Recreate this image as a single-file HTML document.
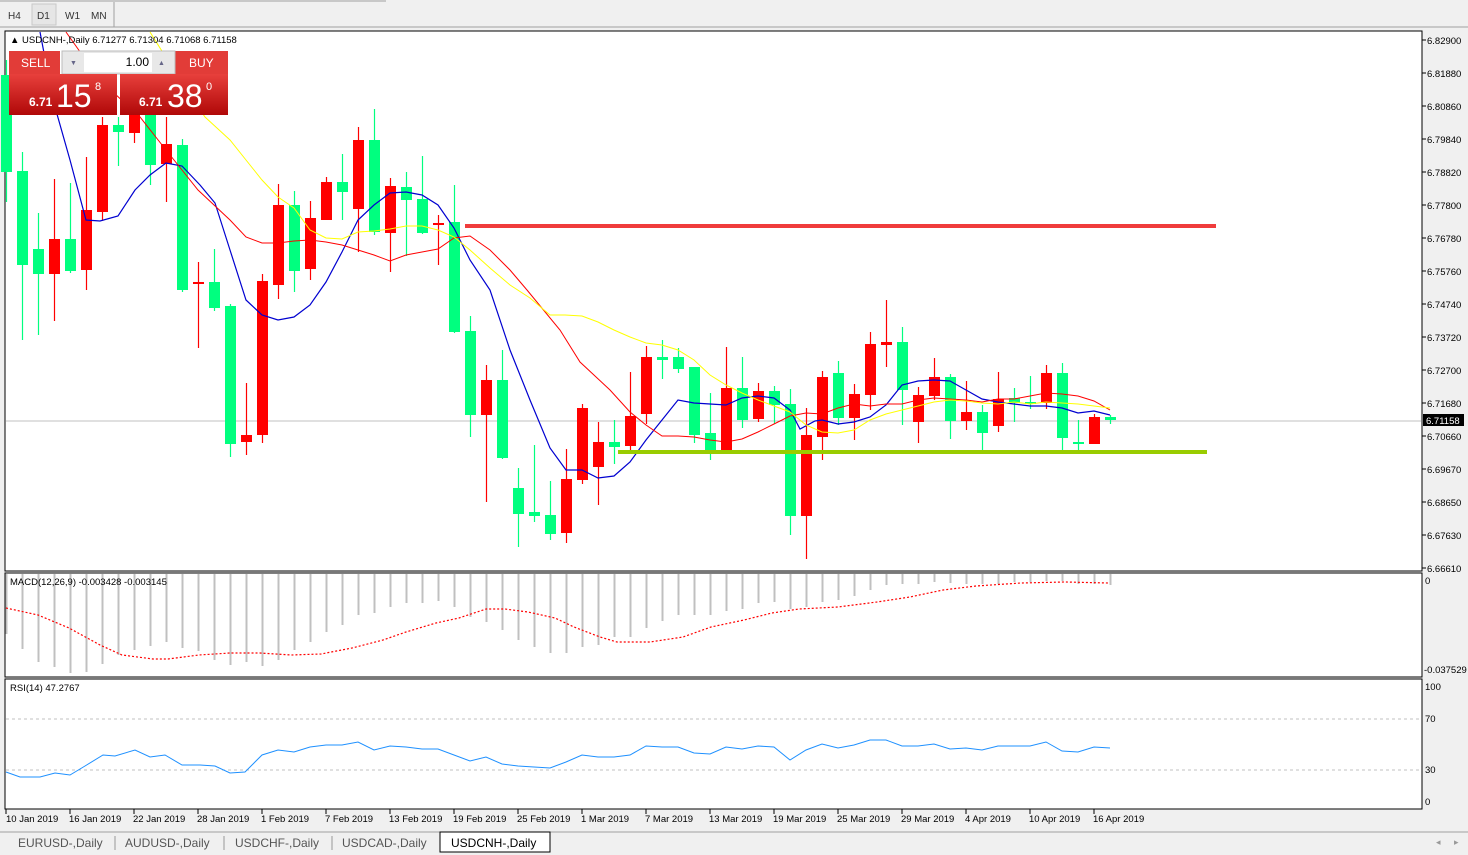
<!DOCTYPE html>
<html><head><meta charset="utf-8"><style>
html,body{margin:0;padding:0;width:1468px;height:855px;overflow:hidden;background:#f0f0f0;font-family:"Liberation Sans",sans-serif;}
svg{position:absolute;left:0;top:0}
.t{font-family:"Liberation Sans",sans-serif;font-size:9.5px;fill:#000}
</style></head><body>
<svg id="s" width="1468" height="855" xmlns="http://www.w3.org/2000/svg">
<rect x="0" y="0" width="1468" height="855" fill="#f0f0f0"/>
<line x1="0" y1="1" x2="386" y2="1" stroke="#a0a0a0"/>
<line x1="114" y1="2" x2="114" y2="27" stroke="#a0a0a0"/>
<rect x="32" y="4" width="24" height="21" fill="#e6e6e6" stroke="#c8c8c8"/>
<text x="8" y="19" font-size="10" fill="#333" font-family="Liberation Sans">H4</text>
<text x="37" y="19" font-size="10" fill="#333" font-family="Liberation Sans">D1</text>
<text x="65" y="19" font-size="10" fill="#333" font-family="Liberation Sans">W1</text>
<text x="91" y="19" font-size="10" fill="#333" font-family="Liberation Sans">MN</text>
<line x1="0" y1="27" x2="1468" y2="27" stroke="#a0a0a0"/>
<rect x="5" y="31" width="1417" height="540" fill="#fff" stroke="#000"/>
<rect x="5" y="573" width="1417" height="104" fill="#fff" stroke="#000"/>
<rect x="5" y="679" width="1417" height="130" fill="#fff" stroke="#000"/>
<rect x="0" y="829" width="1468" height="26" fill="#f0f0f0"/>
<g id="g"></g>
<g class="t">
<text x="1427" y="44">6.82900</text><text x="1427" y="77">6.81880</text><text x="1427" y="110">6.80860</text><text x="1427" y="143">6.79840</text><text x="1427" y="176">6.78820</text><text x="1427" y="209">6.77800</text><text x="1427" y="242">6.76780</text><text x="1427" y="275">6.75760</text><text x="1427" y="308">6.74740</text><text x="1427" y="341">6.73720</text><text x="1427" y="374">6.72700</text><text x="1427" y="407">6.71680</text><text x="1427" y="440">6.70660</text><text x="1427" y="473">6.69670</text><text x="1427" y="506">6.68650</text><text x="1427" y="539">6.67630</text><text x="1427" y="572">6.66610</text>
<text x="1425" y="584">0</text><text x="1424" y="673">-0.037529</text>
<text x="1425" y="690">100</text><text x="1425" y="722">70</text><text x="1425" y="773">30</text><text x="1425" y="805">0</text>
</g>
<rect x="1423" y="414" width="41" height="12" fill="#000"/>
<text x="1426" y="424" font-family="Liberation Sans" font-size="9.5" fill="#fff">6.71158</text>
<g class="t">
<text x="6" y="822">10 Jan 2019</text><text x="69" y="822">16 Jan 2019</text><text x="133" y="822">22 Jan 2019</text><text x="197" y="822">28 Jan 2019</text><text x="261" y="822">1 Feb 2019</text><text x="325" y="822">7 Feb 2019</text><text x="389" y="822">13 Feb 2019</text><text x="453" y="822">19 Feb 2019</text><text x="517" y="822">25 Feb 2019</text><text x="581" y="822">1 Mar 2019</text><text x="645" y="822">7 Mar 2019</text><text x="709" y="822">13 Mar 2019</text><text x="773" y="822">19 Mar 2019</text><text x="837" y="822">25 Mar 2019</text><text x="901" y="822">29 Mar 2019</text><text x="965" y="822">4 Apr 2019</text><text x="1029" y="822">10 Apr 2019</text><text x="1093" y="822">16 Apr 2019</text>
</g>
<line x1="0" y1="832" x2="1468" y2="832" stroke="#a0a0a0"/>
<rect x="440" y="832" width="110" height="20" fill="#fff" stroke="#000"/>
<g font-family="Liberation Sans" font-size="12" fill="#555">
<text x="18" y="847">EURUSD-,Daily</text><text x="125" y="847">AUDUSD-,Daily</text><text x="235" y="847">USDCHF-,Daily</text><text x="342" y="847">USDCAD-,Daily</text><text x="451" y="847" fill="#000">USDCNH-,Daily</text>
</g>
<line x1="115" y1="836" x2="115" y2="850" stroke="#999"/><line x1="224" y1="836" x2="224" y2="850" stroke="#999"/><line x1="332" y1="836" x2="332" y2="850" stroke="#999"/>
<text x="1436" y="845" font-size="9" fill="#999">◂</text><text x="1454" y="845" font-size="9" fill="#999">▸</text>
<text x="10" y="43" font-size="9.5" font-family="Liberation Sans" fill="#000">▲ USDCNH-,Daily  6.71277 6.71304 6.71068 6.71158</text>
<text x="10" y="585" class="t">MACD(12,26,9) -0.003428 -0.003145</text>
<text x="10" y="691" class="t">RSI(14) 47.2767</text>
<defs><linearGradient id="rg" x1="0" y1="0" x2="0" y2="1"><stop offset="0" stop-color="#e8403c"/><stop offset="1" stop-color="#b00808"/></linearGradient></defs>
<rect x="9" y="51" width="51" height="23" fill="#e23c38"/>
<rect x="175" y="51" width="53" height="23" fill="#e23c38"/>
<rect x="62" y="51" width="113" height="23" fill="#e8e8e8" stroke="#bbb"/>
<rect x="84" y="53" width="68" height="19" fill="#fff"/>
<text x="21" y="67" font-family="Liberation Sans" font-size="12" fill="#fff">SELL</text>
<text x="189" y="67" font-family="Liberation Sans" font-size="12" fill="#fff">BUY</text>
<text x="149" y="66" text-anchor="end" font-family="Liberation Sans" font-size="12" fill="#000">1.00</text>
<text x="70" y="65" font-size="7" fill="#668">▼</text><text x="158" y="65" font-size="7" fill="#668">▲</text>
<rect x="9" y="74" width="108" height="41" fill="url(#rg)"/>
<rect x="120" y="74" width="108" height="41" fill="url(#rg)"/>
<text x="29" y="106" font-family="Liberation Sans" font-size="12" font-weight="bold" fill="#fff">6.71</text>
<text x="56" y="107" font-family="Liberation Sans" font-size="32" fill="#fff">15</text>
<text x="95" y="90" font-family="Liberation Sans" font-size="11" fill="#fff">8</text>
<text x="139" y="106" font-family="Liberation Sans" font-size="12" font-weight="bold" fill="#fff">6.71</text>
<text x="167" y="107" font-family="Liberation Sans" font-size="32" fill="#fff">38</text>
<text x="206" y="90" font-family="Liberation Sans" font-size="11" fill="#fff">0</text>
</svg>
<script>
var NS="http://www.w3.org/2000/svg",g=document.getElementById('g');
function el(t,a){var e=document.createElementNS(NS,t);for(var k in a)e.setAttribute(k,a[k]);g.appendChild(e);return e;}
for(var i=0;i<17;i++)el('line',{x1:1422,y1:40+i*33,x2:1426,y2:40+i*33,stroke:'#000'});
for(var i=0;i<18;i++)el('line',{x1:6+i*64,y1:809,x2:6+i*64,y2:814,stroke:'#000'});
el('line',{x1:6,y1:421,x2:1421,y2:421,stroke:'#c0c0c0'});
var C=[['g',75,172,60,202],['g',171,265,152,340],['g',249,274,213,335],['r',239,274,179,321],['g',239,271,183,273],['r',210,270,157,290],['r',125,212,117,221],['g',125,132,117,166],['r',112,133,105,143],['g',112,165,105,185],['r',144,164,117,202],['g',145,290,139,292],['r',282,284,262,348],['g',282,308,249,311],['g',306,444,304,457],['r',435,442,383,455],['r',281,435,274,443],['r',205,285,184,299],['g',205,271,191,292],['r',218,269,201,280],['r',182,220,177,220],['g',182,192,154,220],['r',140,209,127,252],['g',140,232,109,235],['r',186,233,178,272],['g',187,200,172,256],['g',199,233,156,234],['r',223,225,215,265],['g',222,332,185,333],['g',331,415,316,437],['r',380,415,365,502],['g',380,458,350,459],['g',488,514,468,547],['g',512,516,445,522],['g',515,534,481,540],['r',479,533,449,543],['r',408,480,404,484],['r',442,467,422,505],['g',442,447,420,464],['r',416,446,372,454],['r',357,414,346,424],['g',357,360,340,379],['g',357,369,348,373],['g',367,435,367,443],['g',433,450,393,460],['r',388,450,347,450],['g',388,420,357,428],['r',391,419,383,422],['g',391,405,386,424],['g',404,516,389,535],['r',435,516,408,559],['r',377,437,371,460],['g',373,418,361,425],['r',394,418,384,440],['r',344,395,332,410],['r',342,345,300,367],['g',342,390,327,425],['r',395,422,387,443],['r',377,396,358,400],['g',377,421,374,439],['r',412,421,381,430],['g',412,433,405,450],['r',399,426,372,432],['g',398,403,388,422],['g',402,404,376,409],['r',373,403,365,409],['g',373,438,363,450],['g',442,444,420,450],['r',417,444,414,444],['g',417,420,415,424]];
C.forEach(function(c,k){var x=6+16*k,col=c[0]=='g'?'#00ff7f':'#ff0000';
 var ht=Math.max(c[3],32),bt=Math.max(c[1],32);
 el('line',{x1:x+0.5,y1:ht,x2:x+0.5,y2:c[4],stroke:col,'stroke-width':1.2});
 var h=Math.max(c[2]-bt,2);el('rect',{x:x-5,y:bt,width:11,height:h,fill:col});});
function pl(p,col,w,extra){var a={points:p,fill:'none',stroke:col,'stroke-width':w};for(var k in extra)a[k]=extra[k];el('polyline',a);}
pl("40,32 53,100 70,160 86,220 100,221 118,216 135,190 150,175 166,163 182,166 200,185 215,203 230,250 246,300 262,315 278,320 294,317 310,305 326,282 342,252 358,220 374,205 390,193 406,192 422,195 438,205 454,228 470,260 490,290 510,350 530,400 550,448 566,470 582,470 598,478 614,476 630,462 646,440 662,420 678,400 694,403 710,404 726,405 742,398 758,396 774,398 790,410 800,429 815,421 822,420 838,424 854,422 870,417 886,405 902,385 918,381 934,380 950,381 966,390 982,399 998,402 1014,404 1030,406 1046,406 1062,408 1078,413 1094,411 1110,415","#0000d0",1.2);
pl("66,32 100,80 140,117 166,150 182,170 198,190 214,205 230,220 246,237 262,243 278,243 294,241 310,240 326,242 342,245 358,250 374,255 390,261 406,255 422,252 438,249 454,238 470,236 490,250 510,270 527,290 560,330 580,362 610,390 630,412 646,425 662,436 678,436 694,437 710,440 726,442 742,439 758,432 774,424 790,416 806,413 822,414 838,408 854,404 870,406 886,404 902,404 918,400 934,398 950,399 966,400 982,402 998,399 1014,399 1030,396 1046,393 1062,394 1078,396 1094,401 1110,410","#ff0000",1);
pl("150,32 180,80 205,117 230,140 246,160 262,180 278,197 294,208 310,230 326,238 342,239 358,232 374,231 390,229 406,226 422,226 438,230 454,237 470,250 490,268 510,285 530,298 550,315 565,315 582,316 598,322 614,330 630,337 646,343 662,345 678,350 694,360 710,375 726,385 742,393 758,400 774,406 790,412 806,425 822,432 838,433 854,430 870,420 886,414 902,410 918,406 934,402 950,400 966,401 982,403 998,404 1014,402 1030,404 1046,402 1062,403 1078,404 1094,406 1110,408","#ffff00",1);
el('rect',{x:465,y:224,width:751,height:4,fill:'#f03c3c'});
el('rect',{x:618,y:450,width:589,height:4,fill:'#99cc00'});
var M=[634,649,662,667,673,672,664,655,650,646,642,648,651,660,665,662,666,660,650,642,632,625,615,613,607,603,603,601,607,617,622,630,640,647,653,653,647,645,637,637,628,621,615,615,615,611,609,603,602,609,607,602,600,596,590,585,584,584,582,583,584,584,584,582,582,581,581,584,584,585];
M.forEach(function(y,k){var x=6+16*k;el('line',{x1:x+0.5,y1:574,x2:x+0.5,y2:y,stroke:'#c0c0c0','stroke-width':2});});
pl("6,608 38,615 69,628 100,645 122,655 153,659 168,659 199,655 230,653 260,653 291,655 321,654 352,648 383,640 406,632 436,623 459,618 486,609 505,609 528,612 555,618 574,627 600,637 617,642 650,642 683,637 711,627 744,620 772,613 799,609 838,607 877,602 910,597 943,590 976,586 1021,583 1065,582 1109,583","#ff0000",1.2,{'stroke-dasharray':'2,2'});
el('line',{x1:6,y1:719,x2:1421,y2:719,stroke:'#c0c0c0','stroke-dasharray':'3,3'});
el('line',{x1:6,y1:770,x2:1421,y2:770,stroke:'#c0c0c0','stroke-dasharray':'3,3'});
pl("6,772 20,777 40,777 55,773 70,775 85,766 103,755 115,756 135,750 150,757 165,755 182,765 200,765 215,766 230,773 245,772 262,755 278,750 294,752 310,747 326,745 342,745 358,742 374,750 390,746 406,747 422,749 438,749 454,755 470,761 486,757 502,764 518,766 534,767 550,768 566,762 582,755 598,757 614,757 630,755 646,746 662,747 678,747 694,753 710,754 726,747 742,749 758,746 774,747 790,760 806,750 822,744 838,748 854,745 870,740 886,740 902,746 918,746 934,744 950,749 966,748 982,750 998,746 1014,746 1030,746 1046,742 1062,751 1078,752 1094,747 1110,748","#1e90ff",1);
</script>
</body></html>
